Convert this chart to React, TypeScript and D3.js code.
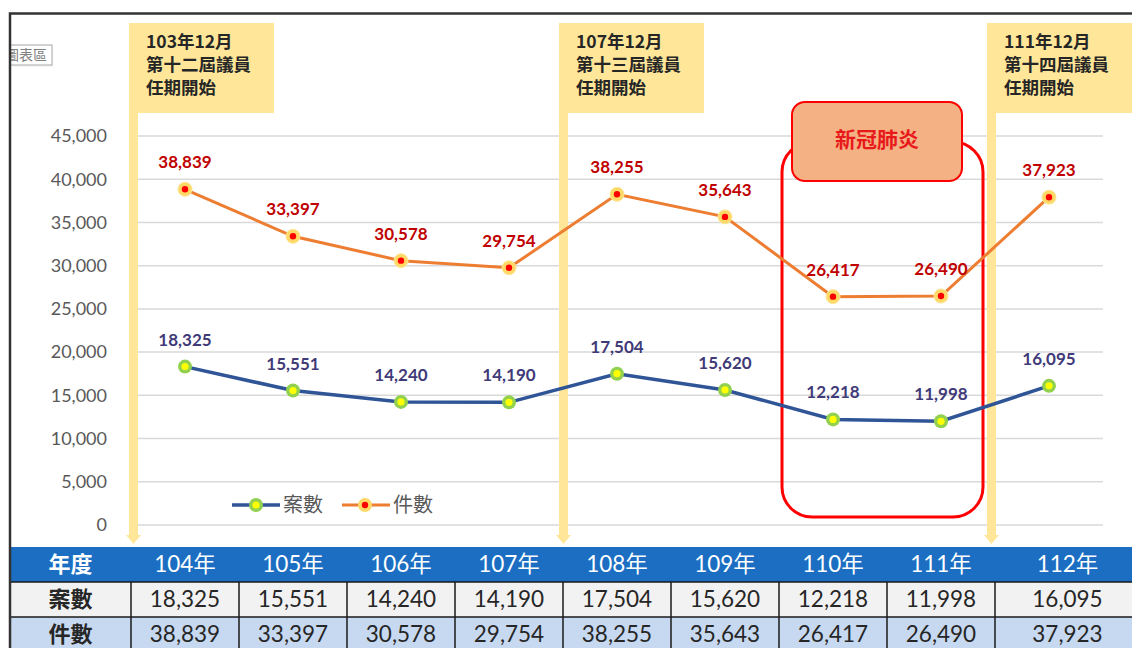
import React from "react";
import * as d3 from "d3";

const years = ["104年", "105年", "106年", "107年", "108年", "109年", "110年", "111年", "112年"];
const caseCounts = [18325, 15551, 14240, 14190, 17504, 15620, 12218, 11998, 16095];
const itemCounts = [38839, 33397, 30578, 29754, 38255, 35643, 26417, 26490, 37923];
const yTicks = [0, 5000, 10000, 15000, 20000, 25000, 30000, 35000, 40000, 45000];
const callouts = [
	{ at: 0, lines: ["103年12月", "第十二屆議員", "任期開始"] },
	{ at: 4, lines: ["107年12月", "第十三屆議員", "任期開始"] },
	{ at: 8, lines: ["111年12月", "第十四屆議員", "任期開始"] },
];
const covidYears = ["110年", "111年"];

const W = 1132;
const H = 648;
const NUM = "Lato, 'Noto Sans CJK TC', sans-serif";
const CJK = "'Noto Sans CJK TC', 'Noto Sans', sans-serif";
const fmt = d3.format(",");

export default function App() {
	const x = d3.scaleBand().domain(years).range([131, 1103]);
	const y = d3.scaleLinear().domain([0, 45000]).range([525, 136]);
	const cx = (d: string) => (x(d) as number) + x.bandwidth() / 2;

	const line = d3
		.line<number>()
		.x((_, i) => cx(years[i]))
		.y((d) => y(d));

	// table geometry
	const rowTop = [547, 582, 617];
	const rowH = 35;
	const colEdges = [10, ...years.map((d) => x(d) as number), 1140];

	const covidX0 = (x(covidYears[0]) as number) + 3;
	const covidX1 = (x(covidYears[1]) as number) + x.bandwidth() - 12;

	return (
		<svg width={W} height={H} style={{ position: "absolute", left: 0, top: 0, background: "#fff" }}>
			<defs>
				<clipPath id="tipclip">
					<rect x={11} y={40} width={50} height={30} />
				</clipPath>
			</defs>

			{/* gridlines */}
			{yTicks.map((t) => (
				<line key={t} x1={131} x2={1103} y1={y(t)} y2={y(t)} stroke="#d9d9d9" strokeWidth={1.5} />
			))}
			{yTicks.map((t) => (
				<text key={"l" + t} x={107} y={y(t)} dy="0.35em" textAnchor="end" fontFamily={NUM} fontSize={18} fill="#595959">
					{fmt(t)}
				</text>
			))}

			{/* covid box */}
			<rect x={covidX0} y={142} width={covidX1 - covidX0} height={375} rx={30} fill="none" stroke="#ff0000" strokeWidth={3} />
			<rect x={792} y={102} width={170} height={79} rx={13} fill="#f4b183" stroke="#ff0000" strokeWidth={2} />
			<text x={877} y={140} dy="0.35em" textAnchor="middle" fontFamily={CJK} fontWeight="bold" fontSize={21} fill="#e8191b">
				新冠肺炎
			</text>

			{/* callouts with stems */}
			{callouts.map((c) => {
				const edge = (x(years[c.at]) as number) + (c.at === 0 ? 2 : 0) - (c.at === 8 ? 4 : 0);
				const left = edge - 4;
				return (
					<g key={c.at}>
						<rect x={left} y={23} width={145} height={90} fill="#ffe699" />
						<rect x={left} y={112} width={9} height={424} fill="#ffe699" />
						<path d={`M${left - 3},535 L${left + 12},535 L${left + 4.5},544 Z`} fill="#ffe699" />
						{c.lines.map((l, i) => (
							<text key={i} x={left + 17} y={42 + i * 23} dy="0.35em" fontFamily={CJK} fontWeight="bold" fontSize={17.5} fill="#262626">
								{l}
							</text>
						))}
					</g>
				);
			})}

			{/* lines */}
			<path d={line(itemCounts) || ""} fill="none" stroke="#ed7d31" strokeWidth={3} />
			<path d={line(caseCounts) || ""} fill="none" stroke="#2f5597" strokeWidth={3.5} />

			{itemCounts.map((v, i) => (
				<g key={"o" + i}>
					<circle cx={cx(years[i])} cy={y(v)} r={7} fill="#ffd966" stroke="#ffe699" strokeWidth={1} />
					<circle cx={cx(years[i])} cy={y(v)} r={3.2} fill="#ff0000" />
					<text x={cx(years[i])} y={y(v) - 27} dy="0.35em" textAnchor="middle" fontFamily={NUM} fontWeight="bold" fontSize={17} fill="#c00000">
						{fmt(v)}
					</text>
				</g>
			))}
			{caseCounts.map((v, i) => (
				<g key={"b" + i}>
					<circle cx={cx(years[i])} cy={y(v)} r={7} fill="#92d050" />
					<circle cx={cx(years[i])} cy={y(v)} r={3.6} fill="#ffff00" />
					<text x={cx(years[i])} y={y(v) - 27} dy="0.35em" textAnchor="middle" fontFamily={NUM} fontWeight="bold" fontSize={17} fill="#403a78">
						{fmt(v)}
					</text>
				</g>
			))}

			{/* legend */}
			<g>
				<line x1={232} x2={280} y1={505} y2={505} stroke="#2f5597" strokeWidth={3.5} />
				<circle cx={256} cy={505} r={7} fill="#92d050" />
				<circle cx={256} cy={505} r={3.6} fill="#ffff00" />
				<text x={283} y={505} dy="0.35em" fontFamily={CJK} fontSize={20} fill="#595959">案數</text>
				<line x1={342} x2={390} y1={505} y2={505} stroke="#ed7d31" strokeWidth={3} />
				<circle cx={365} cy={505} r={7} fill="#ffd966" />
				<circle cx={365} cy={505} r={3.2} fill="#ff0000" />
				<text x={393} y={505} dy="0.35em" fontFamily={CJK} fontSize={20} fill="#595959">件數</text>
			</g>

			{/* table */}
			<rect x={10} y={rowTop[0]} width={W} height={rowH} fill="#1b6ec2" />
			<rect x={10} y={rowTop[1]} width={W} height={rowH} fill="#f2f2f2" />
			<rect x={10} y={rowTop[2]} width={W} height={rowH} fill="#c6d9f0" />
			<line x1={10} x2={W} y1={rowTop[1]} y2={rowTop[1]} stroke="#1a1a1a" strokeWidth={1.5} />
			<line x1={10} x2={W} y1={rowTop[2]} y2={rowTop[2]} stroke="#1a1a1a" strokeWidth={1.5} />
			{colEdges.slice(1, -1).map((e, i) => (
				<line key={"c" + i} x1={e} x2={e} y1={rowTop[1]} y2={H} stroke="#1a1a1a" strokeWidth={1.5} />
			))}
			{[
				{ label: "年度", vals: years, fill: "#fff" },
				{ label: "案數", vals: caseCounts.map(fmt), fill: "#262626" },
				{ label: "件數", vals: itemCounts.map(fmt), fill: "#262626" },
			].map((r, ri) => (
				<g key={"r" + ri}>
					<text x={(colEdges[0] + colEdges[1]) / 2} y={rowTop[ri] + rowH / 2} dy="0.35em" textAnchor="middle" fontFamily={CJK} fontWeight="bold" fontSize={22} fill={ri === 0 ? "#fff" : "#262626"}>
						{r.label}
					</text>
					{r.vals.map((v, i) => (
						<text key={i} x={(colEdges[i + 1] + colEdges[i + 2]) / 2} y={rowTop[ri] + rowH / 2} dy="0.35em" textAnchor="middle" fontFamily={NUM} fontSize={22.5} fill={r.fill}>
							{v}
						</text>
					))}
				</g>
			))}

			{/* tooltip remnant */}
			<rect x={13} y={47} width={40} height={20} fill="#f0f0f0" opacity={0.6} />
			<rect x={10} y={45} width={42} height={20} fill="#fff" stroke="#a6a6a6" strokeWidth={1} />
			<text x={47} y={55} dy="0.35em" textAnchor="end" fontFamily={CJK} fontSize={14} fill="#7f7f7f" clipPath="url(#tipclip)">
				圖表區
			</text>

			{/* frame */}
			<path d={`M10,${H} L10,13.5 L${W},13.5`} fill="none" stroke="#333" strokeWidth={2.5} />
		</svg>
	);
}
